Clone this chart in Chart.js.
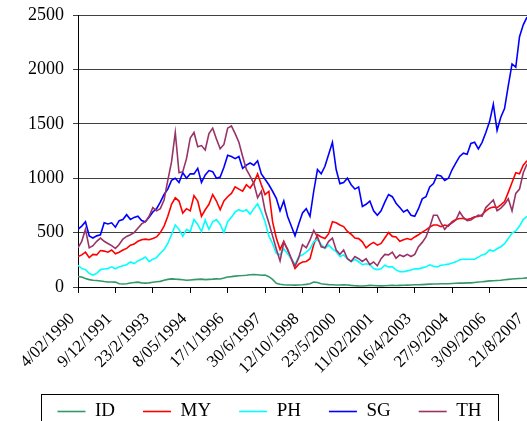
<!DOCTYPE html>
<html>
<head>
<meta charset="utf-8">
<script src="https://cdn.jsdelivr.net/npm/chart.js@4.4.1/dist/chart.umd.min.js"></script>
<style>
    html, body { margin: 0; padding: 0; overflow: hidden; background: #fff; }
    #wrap { width: 527px; height: 431px; }
</style>
</head>
<body>
<div id="wrap"><canvas id="indexChart" width="527" height="431"></canvas></div>
<script>
// tick labels shown every 10 observations
const tickLabels = ['4/02/1990', '9/12/1991', '23/2/1993', '8/05/1994', '17/1/1996', '30/6/1997',
    '12/10/1998', '23/5/2000', '11/02/2001', '16/4/2003', '27/9/2004', '3/09/2006', '21/8/2007'];

const seriesNames = ['ID', 'MY', 'PH', 'SG', 'TH'];

const idValues = [95, 92, 78, 68, 62, 60, 55, 50, 46, 46,
    45, 30, 28, 30, 36, 42, 45, 38, 36, 38,
    44, 48, 52, 62, 70, 75, 72, 70, 66, 62,
    65, 68, 70, 72, 68, 70, 72, 75, 74, 82,
    92, 95, 100, 104, 105, 108, 112, 115, 112, 108,
    110, 95, 70, 35, 25, 20, 18, 18, 17, 18,
    20, 24, 30, 45, 42, 30, 26, 22, 20, 18,
    18, 20, 19, 15, 12, 10, 9, 12, 15, 14,
    12, 10, 12, 14, 15, 14, 15, 16, 17, 18,
    20, 20, 22, 24, 26, 28, 28, 30, 30, 30,
    32, 34, 36, 36, 38, 38, 42, 46, 48, 52,
    56, 58, 60, 62, 66, 70, 74, 76, 78, 80, 84];

const myValues = [280, 295, 320, 270, 300, 295, 335, 330, 320, 340,
    305, 320, 340, 355, 385, 395, 420, 435, 440, 435,
    445, 460, 500, 560, 650, 760, 820, 790, 680, 720,
    700, 840, 790, 650, 710, 760, 850, 790, 710, 790,
    830, 860, 920, 900, 880, 940, 910, 960, 1040, 940,
    850, 880, 600, 450, 345, 420, 340, 260, 170, 210,
    230, 235, 260, 390, 480, 460, 445, 490, 600, 590,
    570, 555, 510, 485, 450, 445, 415, 360, 390, 410,
    385, 400, 450, 500, 465, 460, 420, 435, 445, 435,
    460, 480, 505, 525, 550, 570, 570, 555, 570, 560,
    600, 620, 630, 630, 620, 630, 645, 648, 665, 700,
    725, 735, 730, 755, 785, 870, 960, 1050, 1040, 1120, 1160];

const phValues = [200, 170, 160, 125, 110, 125, 160, 165, 170, 185,
    167, 185, 195, 205, 230, 215, 240, 255, 275, 235,
    255, 270, 310, 345, 400, 480, 570, 530, 465, 530,
    510, 620, 575, 510, 615, 530, 600, 620, 575, 500,
    600, 640, 690, 710, 695, 710, 670, 720, 765, 690,
    600, 470, 400, 310, 296, 350, 305, 259, 205, 280,
    296, 320, 350, 415, 440, 390, 355, 385, 350, 325,
    280, 295, 260, 232, 255, 232, 205, 213, 205, 170,
    160, 167, 200, 185, 185, 157, 140, 140, 148, 157,
    167, 167, 176, 185, 204, 190, 185, 200, 204, 210,
    220, 231, 250, 255, 255, 255, 255, 275, 295, 305,
    340, 330, 352, 370, 398, 445, 495, 515, 560, 620, 650];

const sgValues = [530, 560, 600, 470, 450, 470, 480, 590, 580, 590,
    550, 610, 620, 665, 620, 640, 650, 610, 600, 640,
    690, 720, 780, 850, 900, 980, 1000, 960, 1050, 1000,
    1040, 1040, 1090, 960, 1030, 1070, 1060, 1000, 1010, 1100,
    1210, 1200, 1180, 1200, 1090, 1120, 1140, 1120, 1160, 1040,
    990, 940, 880, 815, 700, 790, 650, 560, 470, 580,
    680, 720, 650, 880, 1080, 1040, 1110, 1220, 1330, 1080,
    950, 960, 1000, 940, 900, 920, 740, 760, 790, 700,
    660, 700, 780, 850, 830, 770, 730, 690, 710, 660,
    650, 720, 810, 830, 920, 950, 1030, 1020, 980, 1000,
    1080, 1140, 1200, 1230, 1220, 1320, 1330, 1270, 1330, 1420,
    1520, 1680, 1440, 1560, 1640, 1850, 2050, 2020, 2300, 2410, 2480];

const thValues = [360, 420, 530, 360, 380, 420, 450, 420, 400, 380,
    355, 390, 440, 465, 480, 500, 540, 580, 600, 650,
    730, 700, 720, 800, 980, 1150, 1420, 1050, 1060, 1180,
    1370, 1420, 1290, 1300, 1260, 1410, 1460, 1360, 1270, 1310,
    1460, 1480, 1410, 1330, 1200, 1080, 1020, 950, 820, 880,
    700, 590, 470, 350, 240, 410, 350, 260, 190, 270,
    390, 360, 430, 520, 460, 370, 360, 420, 450, 340,
    300, 340, 260, 235, 280, 260, 235, 260, 205, 230,
    195, 260, 300, 295, 320, 265, 295, 280, 300, 280,
    300, 370, 410, 460, 550, 660, 660, 590, 530, 570,
    590, 615, 690, 640, 610, 615, 640, 660, 650, 730,
    765, 800, 700, 725, 760, 810, 700, 860, 900, 1050, 1130];

const seriesColors = ['#339966', '#ff0000', '#00ffff', '#0000ff', '#993366'];

Chart.defaults.font.family = "'Liberation Serif', 'Times New Roman', serif";
Chart.defaults.font.size = 18;
Chart.defaults.color = '#000';

const toPoints = (values) => values.map((v, i) => ({ x: i, y: v }));

// Excel-style frame round the legend
const legendFrame = {
    id: 'legendFrame',
    afterDraw(chart) {
        const boxes = chart.legend && chart.legend.legendHitBoxes;
        if (!boxes || !boxes.length) return;
        const last = boxes[boxes.length - 1];
        const left = Math.round(boxes[0].left - 16);
        const right = Math.round(last.left + last.width + 16);
        const top = Math.round(boxes[0].top - 8);
        const ctx = chart.ctx;
        ctx.save();
        ctx.strokeStyle = '#000';
        ctx.lineWidth = 1;
        ctx.strokeRect(left + 0.5, top + 0.5, right - left, 60);
        ctx.restore();
    },
};

const datasets = [idValues, myValues, phValues, sgValues, thValues].map((values, k) => ({
    label: seriesNames[k],
    data: toPoints(values),
    borderColor: seriesColors[k],
    backgroundColor: seriesColors[k],
    borderWidth: 1.6,
    pointRadius: 0,
    tension: 0,
    order: 5 - k,
}));

new Chart(document.getElementById('indexChart'), {
    type: 'line',
    data: { datasets: datasets },
    options: {
        responsive: false,
        animation: false,
        layout: {
            padding: { top: 15, left: 12, right: 0, bottom: 0 },
        },
        plugins: {
            legend: {
                position: 'bottom',
                labels: {
                    usePointStyle: true,
                    pointStyle: 'line',
                    pointStyleWidth: 28,
                    padding: 28,
                    font: { size: 19 },
                    sort: (a, b) => a.datasetIndex - b.datasetIndex,
                },
            },
            tooltip: { enabled: false },
        },
        scales: {
            x: {
                type: 'linear',
                min: 0,
                max: 120,
                afterFit: (scale) => {
                    scale.height = 87;
                    scale.paddingRight = 0;
                    scale.paddingLeft = 0;
                },
                ticks: {
                    stepSize: 10,
                    autoSkip: false,
                    minRotation: 45,
                    maxRotation: 45,
                    padding: 16,
                    labelOffset: -6,
                    font: { size: 17 },
                    callback: (value) => tickLabels[value / 10],
                },
                grid: {
                    drawOnChartArea: false,
                    drawTicks: true,
                    tickLength: 6,
                    color: '#000',
                },
                border: { color: '#000' },
            },
            y: {
                min: 0,
                max: 2500,
                afterFit: (scale) => {
                    scale.width = 66;
                    scale.paddingTop = 0;
                    scale.paddingBottom = 0;
                },
                ticks: {
                    stepSize: 500,
                    padding: 9,
                    callback: (value) => String(value),
                },
                grid: {
                    color: '#404040',
                    tickLength: 5,
                },
                border: { color: '#000' },
            },
        },
    },
    plugins: [legendFrame],
});
</script>
</body>
</html>
